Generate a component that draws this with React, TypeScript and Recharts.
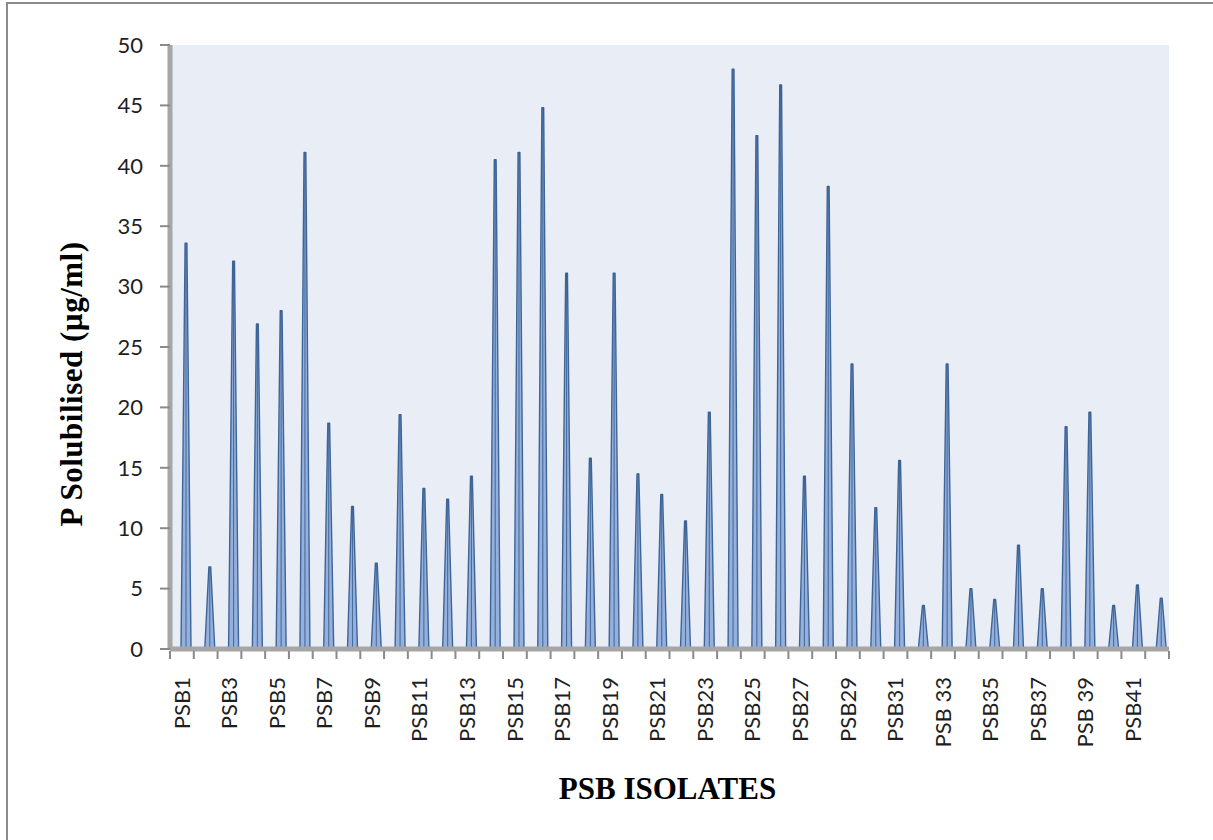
import React from 'react';
import { BarChart, Bar, XAxis, YAxis, CartesianGrid } from 'recharts';

const categories = [
  'PSB1', 'PSB2', 'PSB3', 'PSB4', 'PSB5', 'PSB6', 'PSB7', 'PSB8', 'PSB9', 'PSB10',
  'PSB11', 'PSB12', 'PSB13', 'PSB14', 'PSB15', 'PSB16', 'PSB17', 'PSB18', 'PSB19', 'PSB20',
  'PSB21', 'PSB22', 'PSB23', 'PSB24', 'PSB25', 'PSB26', 'PSB27', 'PSB28', 'PSB29', 'PSB30',
  'PSB31', 'PSB32', 'PSB 33', 'PSB34', 'PSB35', 'PSB36', 'PSB37', 'PSB38', 'PSB 39', 'PSB40',
  'PSB41', 'PSB42',
];

const pSolubilised = [
  33.6, 6.8, 32.1, 26.9, 28.0, 41.1, 18.7, 11.8, 7.1, 19.4,
  13.3, 12.4, 14.3, 40.5, 41.1, 44.8, 31.1, 15.8, 31.1, 14.5,
  12.8, 10.6, 19.6, 48.0, 42.5, 46.7, 14.3, 38.3, 23.6, 11.7,
  15.6, 3.6, 23.6, 5.0, 4.1, 8.6, 5.0, 18.4, 19.6, 3.6,
  5.3, 4.2,
];

const yTicks = [0, 5, 10, 15, 20, 25, 30, 35, 40, 45, 50];

const xTitle = 'PSB ISOLATES';
const yTitle = 'P Solubilised (µg/ml)';

const data = categories.map((name, i) => ({ name, value: pSolubilised[i] }));

const W = 1213;
const H = 840;
const MARGIN = { top: 45, right: 44, bottom: 0, left: 70 };
const Y_AXIS_W = 100;
const X_AXIS_H = 191;
const PLOT_W = W - MARGIN.left - Y_AXIS_W - MARGIN.right;
const BAND = PLOT_W / categories.length;

const TICK_FONT = 'Lato, "Open Sans", "DejaVu Sans", sans-serif';
const TITLE_FONT = '"Liberation Serif", "Times New Roman", "DejaVu Serif", serif';
const AXIS_GRAY = '#A6A6A6';
const TICK_GRAY = '#8A8A8A';
const TEXT = '#1E1E1E';

const Cone = (props: any) => {
  const { x, y, width, height } = props;
  if (height == null || height <= 0) return null;
  const cx = x + width / 2 + 4;
  const base = y + height;
  const half = 5;
  const tip = 0.9;
  return (
    <g>
      <path
        d={`M${cx - half},${base} L${cx - tip},${y} L${cx + tip},${y} L${cx + half},${base} Z`}
        fill="#95B0DC"
        stroke="#3E6597"
        strokeWidth={1.4}
        strokeLinejoin="round"
      />
      <line x1={cx} y1={y} x2={cx} y2={base - 1} stroke="#2E5688" strokeWidth={1.1} opacity={0.75} />
    </g>
  );
};

const XTick = (props: any) => {
  const { x, y, payload, index } = props;
  const left = x - BAND / 2;
  const ty = y + 28;
  return (
    <g>
      <line x1={left} y1={y + 2} x2={left} y2={y + 10} stroke={TICK_GRAY} strokeWidth={2} />
      {index === categories.length - 1 && (
        <line x1={x + BAND / 2} y1={y + 2} x2={x + BAND / 2} y2={y + 10} stroke={TICK_GRAY} strokeWidth={2} />
      )}
      {index % 2 === 0 && (
        <text
          x={x}
          y={ty}
          transform={`rotate(-90 ${x} ${ty})`}
          textAnchor="end"
          dy="0.35em"
          fontSize={22}
          fontFamily={TICK_FONT}
          fill={TEXT}
        >
          {payload.value}
        </text>
      )}
    </g>
  );
};

const XTitle = (props: any) => {
  const vb = props.viewBox || {};
  const cx = (vb.x ?? 0) + (vb.width ?? 0) / 2 - 2;
  return (
    <text x={cx} y={799} textAnchor="middle" fontSize={31} fontWeight="bold" fontFamily={TITLE_FONT} fill="#000">
      {xTitle}
    </text>
  );
};

const YTitle = () => {
  const bx = 82;
  const cy = 384;
  return (
    <text
      x={bx}
      y={cy}
      transform={`rotate(-90 ${bx} ${cy})`}
      textAnchor="middle"
      fontSize={31}
      letterSpacing={0.5}
      fontWeight="bold"
      fontFamily={TITLE_FONT}
      fill="#000"
    >
      {yTitle}
    </text>
  );
};

export default function App() {
  return (
    <div style={{ position: 'absolute', left: 0, top: 0, width: W, height: H, background: '#fff', overflow: 'hidden' }}>
      <div style={{ position: 'absolute', left: 6, top: 2, width: W - 6, height: 2, background: '#8C8C8C' }} />
      <div style={{ position: 'absolute', left: 6, top: 2, width: 2, height: H - 2, background: '#8C8C8C' }} />
      <div style={{ position: 'absolute', left: 0, top: 0 }}>
        <BarChart width={W} height={H} data={data} margin={MARGIN} barCategoryGap={0}>
          <CartesianGrid horizontal={false} vertical={false} fill="#E9EDF6" />
          <XAxis
            dataKey="name"
            interval={0}
            height={X_AXIS_H}
            tickLine={false}
            tickSize={0}
            tickMargin={0}
            axisLine={{ stroke: AXIS_GRAY, strokeWidth: 5 }}
            tick={<XTick />}
            label={(p: any) => <XTitle {...p} />}
          />
          <YAxis
            type="number"
            domain={[0, 50]}
            ticks={yTicks}
            width={Y_AXIS_W}
            tickSize={10}
            tickMargin={17}
            axisLine={{ stroke: AXIS_GRAY, strokeWidth: 5 }}
            tickLine={{ stroke: TICK_GRAY, strokeWidth: 2 }}
            tick={{ fontSize: 22, fontFamily: TICK_FONT, fill: TEXT }}
            label={() => <YTitle />}
          />
          <Bar dataKey="value" barSize={10} shape={<Cone />} isAnimationActive={false} />
        </BarChart>
      </div>
    </div>
  );
}
